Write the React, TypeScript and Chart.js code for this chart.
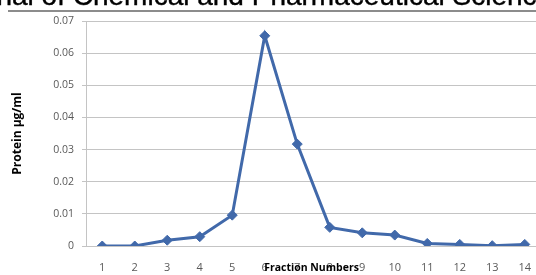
import React, { useEffect, useRef } from "react";
import { Chart, registerables } from "chart.js";

Chart.register(...registerables);

const fractions = ["1", "2", "3", "4", "5", "6", "7", "8", "9", "10", "11", "12", "13", "14"];
const protein = [0, 0, 0.0018, 0.0029, 0.0096, 0.0654, 0.0317, 0.0058, 0.0041, 0.0034, 0.0008, 0.0005, 0.0001, 0.0005];
const yTicks = [0, 0.01, 0.02, 0.03, 0.04, 0.05, 0.06, 0.07];
const headerText = "Journal of Chemical and Pharmaceutical Sciences";
const yTitle = "Protein \u00b5g/ml";
const xTitle = "Fraction Numbers";

const xTitlePlugin = {
  id: "xTitleOverlay",
  afterDraw(chart: any) {
    const { ctx, chartArea } = chart;
    ctx.save();
    ctx.font = "bold 10.5px 'Open Sans'";
    ctx.fillStyle = "#000000";
    ctx.textAlign = "center";
    ctx.textBaseline = "middle";
    ctx.fillText(xTitle, (chartArea.left + chartArea.right) / 2 - 2, chartArea.bottom + 22);
    ctx.restore();
  },
};

export default function App() {
  const ref = useRef<HTMLCanvasElement>(null);
  useEffect(() => {
    const chart = new Chart(ref.current!, {
      type: "line",
      data: {
        labels: fractions,
        datasets: [
          {
            data: protein,
            borderColor: "#4169aa",
            backgroundColor: "#4169aa",
            borderWidth: 3,
            pointStyle: "rectRot",
            pointRadius: 5,
            pointBorderWidth: 1,
            pointHoverRadius: 5,
            tension: 0,
          },
        ],
      },
      options: {
        animation: false,
        responsive: false,
        maintainAspectRatio: false,
        layout: { padding: { top: 21, right: 0, left: 0, bottom: 0 } },
        plugins: { legend: { display: false }, tooltip: { enabled: false } },
        scales: {
          x: {
            offset: true,
            grid: { display: false },
            border: { display: false },
            ticks: { color: "#595959", font: { size: 11, family: "'Open Sans'" }, padding: 7, maxRotation: 0 },
            afterFit: (s: any) => { s.height = 29; },
          },
          y: {
            min: 0,
            max: 0.07,
            afterBuildTicks: (s: any) => { s.ticks = yTicks.map((v) => ({ value: v })); },
            grid: { color: "#c4c4c4", tickLength: 4, tickColor: "#c4c4c4" },
            border: { display: true, color: "#c4c4c4", width: 1 },
            ticks: {
              color: "#595959",
              font: { size: 10.5, family: "'Open Sans'" },
              padding: 8,
              callback: (v: any) => (v === 0 ? "0" : Number(v).toFixed(2)),
            },
            title: {
              display: true,
              text: yTitle,
              color: "#000000",
              font: { size: 12, weight: "bold", family: "'Open Sans'" },
              padding: { top: 10, bottom: 0 },
            },
            afterFit: (s: any) => { s.width = 86; },
          },
        },
      },
      plugins: [xTitlePlugin],
    });
    return () => chart.destroy();
  }, []);

  return (
    <div style={{ position: "fixed", left: 0, top: 0, width: 536, height: 275, overflow: "hidden", background: "#fff" }}>
      <canvas ref={ref} width={547} height={275} style={{ position: "absolute", left: 0, top: 0, width: 547, height: 275 }} />
      <div
        style={{
          position: "absolute",
          left: -58,
          top: -18,
          whiteSpace: "nowrap",
          fontFamily: "'Liberation Sans', Arial, sans-serif",
          fontSize: 28,
          lineHeight: "28px",
          color: "#000",
          WebkitTextStroke: "0.4px #000",
        }}
      >
        {headerText}
      </div>
      <div style={{ position: "absolute", left: 8, top: 10, width: 528, height: 2, background: "#8c8c8c" }} />
    </div>
  );
}
